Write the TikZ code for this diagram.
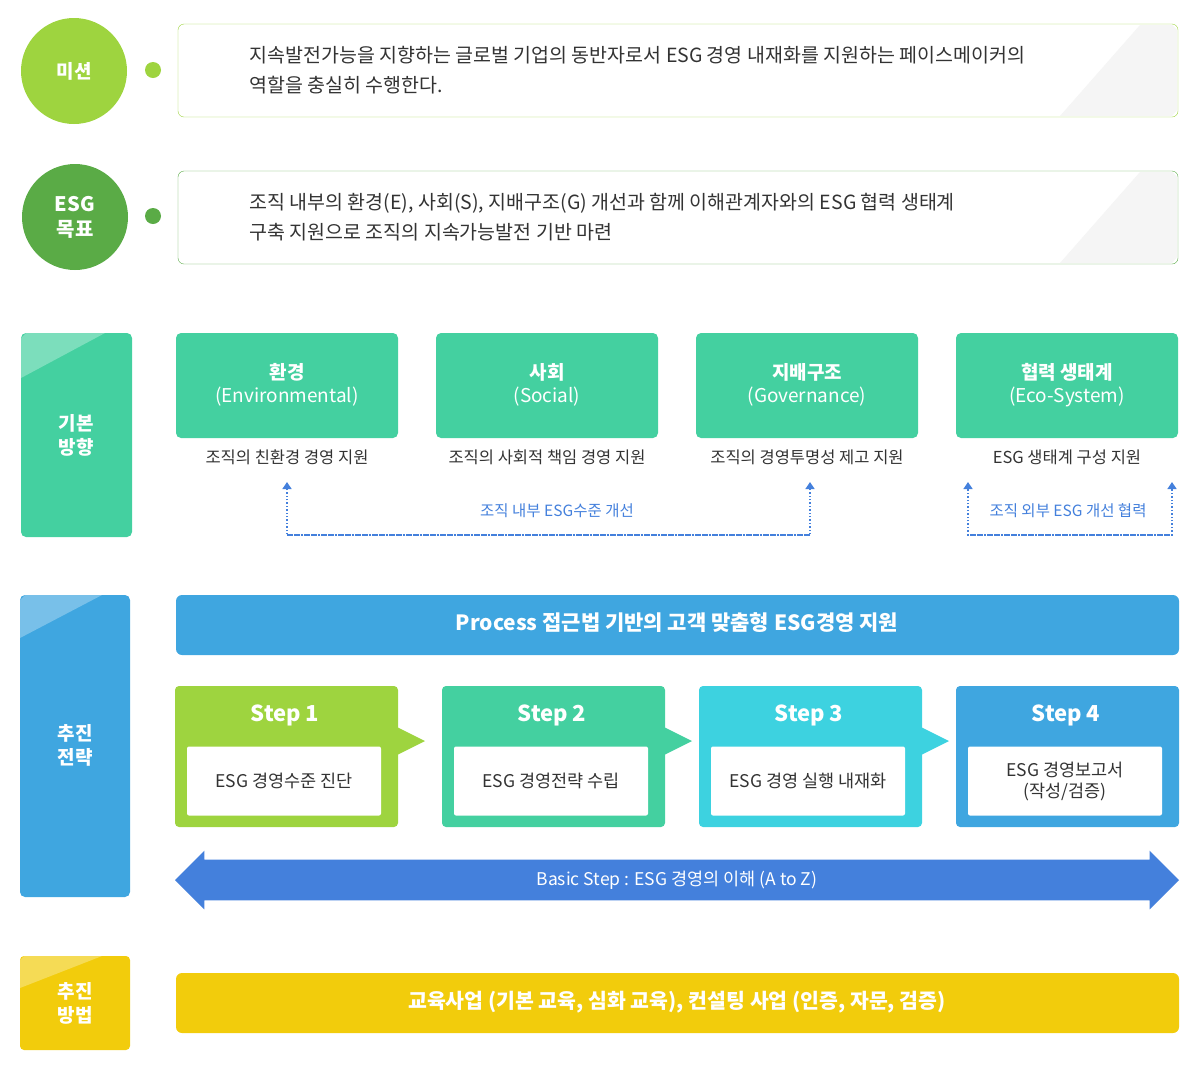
\documentclass[tikz,border=0pt]{standalone}
\usepackage{fontspec}
\setmainfont{Noto Sans CJK KR}
\usetikzlibrary{arrows.meta,shapes.arrows,positioning}
\definecolor{mgreen}{HTML}{9ED43F}
\definecolor{dgreen}{HTML}{5AAB46}
\definecolor{teal}{HTML}{44D0A0}
\definecolor{cyan}{HTML}{3DD2E0}
\definecolor{sblue}{HTML}{3FA6E0}
\definecolor{dblue}{HTML}{4480DC}
\definecolor{yell}{HTML}{F2CC0C}
\definecolor{txt}{HTML}{333333}
\begin{document}
\begin{tikzpicture}[x=1pt,y=-1pt,
  side/.style={rounded corners=4pt,text=white,font=\fontsize{19}{24}\selectfont\bfseries,align=center},
  goal/.style={rounded corners=6pt,fill=white},
  dir/.style={rounded corners=5pt,fill=teal,text=white,font=\fontsize{19}{23}\selectfont\bfseries,align=center},
  sub/.style={text=txt,font=\fontsize{16.5}{20}\selectfont},
  stepbox/.style={rounded corners=4pt},
  inbox/.style={fill=white,rounded corners=2pt,text=txt,font=\fontsize{17.5}{21}\selectfont,align=center},
  stlab/.style={text=white,font=\fontsize{22}{26}\selectfont\bfseries},
  link/.style={dblue,dotted,line width=1.4pt,-{Triangle[length=7pt,width=9pt]}},
  blab/.style={text=dblue,font=\fontsize{15.5}{18}\selectfont}]
\useasboundingbox (0,0) rectangle (1200,1080);
% mission
\node[circle,fill=mgreen,minimum size=106pt,side] (mis) at (74,71) {미션};
\fill[mgreen] (153,70) circle (8);
\filldraw[goal,draw=mgreen] (178,24) rectangle (1178,117);
\fill[black!4] (1060,116) -- (1140,25) -- (1172,25) -- (1177,30) -- (1177,110) -- (1172,116) -- cycle;
\node[anchor=west,text=txt,align=left,font=\fontsize{19.5}{30}\selectfont] (mtxt) at (246,70)
  {지속발전가능을 지향하는 글로벌 기업의 동반자로서 ESG 경영 내재화를 지원하는 페이스메이커의\\역할을 충실히 수행한다.};
% goal
\node[circle,fill=dgreen,minimum size=106pt,side,font=\fontsize{20}{25}\selectfont\bfseries] (goal) at (75,217) {ESG\\목표};
\fill[dgreen] (153,216) circle (8);
\filldraw[goal,draw=dgreen] (178,171) rectangle (1178,264);
\fill[black!4] (1060,263) -- (1140,172) -- (1172,172) -- (1177,177) -- (1177,257) -- (1172,263) -- cycle;
\node[anchor=west,text=txt,align=left,font=\fontsize{19.5}{30}\selectfont] (gtxt) at (246,217)
  {조직 내부의 환경(E), 사회(S), 지배구조(G) 개선과 함께 이해관계자와의 ESG 협력 생태계\\구축 지원으로 조직의 지속가능발전 기반 마련};
% basic direction
\fill[teal,rounded corners=5pt] (21,333) rectangle (132,537);
\fill[white,opacity=.3] (26,333) -- (105,333) -- (21,378) -- (21,338) -- cycle;
\node[side] (dir) at (76,435) {기본\\방향};
\foreach \x/\t/\n [count=\i] in {176/환경\\{\mdseries(Environmental)}/조직의 친환경 경영 지원,
  436/사회\\{\mdseries(Social)}/조직의 사회적 책임 경영 지원,
  696/지배구조\\{\mdseries(Governance)}/조직의 경영투명성 제고 지원,
  956/협력 생태계\\{\mdseries(Eco-System)}/ESG 생태계 구성 지원}{
  \fill[teal,rounded corners=5pt] (\x,333) rectangle +(222,105);
  \node[dir] (d\i) at (\x+111,385) {\t};
  \node[sub] (s\i) at (\x+111,457) {\n};
}
\coordinate (ia) at (287,535); \coordinate (ib) at (810,535);
\coordinate (oa) at (968,535); \coordinate (ob) at (1172,535);
\draw[link] (ib) -- (ia) -- (287,482);
\draw[link] (ia) -- (ib) -- (810,482);
\draw[link] (ob) -- (oa) -- (968,482);
\draw[link] (oa) -- (ob) -- (1172,482);
\node[blab] (inl) at (557,511) {조직 내부 ESG수준 개선};
\node[blab] (outl) at (1068,511) {조직 외부 ESG 개선 협력};
% strategy
\fill[sblue,rounded corners=5pt] (20,595) rectangle (130,897);
\fill[white,opacity=.3] (25,595) -- (102,595) -- (20,638) -- (20,600) -- cycle;
\node[side] (str) at (75,745) {추진\\전략};
\fill[sblue,rounded corners=6pt] (176,595) rectangle (1179,655);
\node[text=white,font=\fontsize{21}{25}\selectfont\bfseries] (proc) at (677,623) {Process 접근법 기반의 고객 맞춤형 ESG경영 지원};
\foreach \x/\c/\t [count=\i] in {175/mgreen/ESG 경영수준 진단, 442/teal/ESG 경영전략 수립,
  699/cyan/ESG 경영 실행 내재화, 956/sblue/{ESG 경영보고서\\(작성/검증)}}{
  \fill[\c,stepbox] (\x,686) rectangle +(223,141);
  \ifnum\i<4 \fill[\c] (\x+222,727) -- (\x+250,741) -- (\x+222,755) -- cycle; \fi
  \node[stlab] (st\i) at (\x+110,715) {Step \i};
  \node[inbox,minimum width=194pt,minimum height=69pt] (in\i) at (\x+109,781) {\t};
}
\node[double arrow,fill=dblue,minimum height=1004pt,minimum width=58pt,
  double arrow head extend=9pt,inner sep=0pt,inner ysep=11pt,
  text=white,font=\fontsize{17.5}{20}\selectfont] (basic) at (677,880) {Basic Step : ESG 경영의 이해 (A to Z)};
% method
\fill[yell,rounded corners=4pt] (20,956) rectangle (130,1050);
\fill[white,opacity=.3] (24,956) -- (102,956) -- (20,988) -- (20,960) -- cycle;
\node[side] (met) at (75,1003) {추진\\방법};
\fill[yell,rounded corners=6pt] (176,973) rectangle (1179,1033);
\node[text=white,font=\fontsize{20.5}{24}\selectfont\bfseries] (edu) at (677,1002) {교육사업 (기본 교육, 심화 교육), 컨설팅 사업 (인증, 자문, 검증)};
\end{tikzpicture}
\end{document}
